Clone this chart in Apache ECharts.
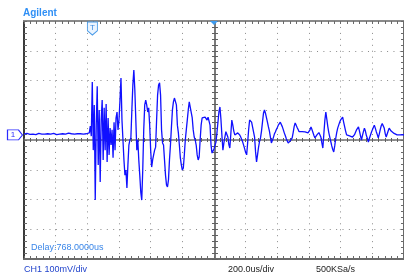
<!DOCTYPE html>
<html>
<head>
<meta charset="utf-8">
<script src="https://cdn.jsdelivr.net/npm/echarts@6/dist/echarts.min.js"></script>
<style>
html,body{margin:0;padding:0;background:#fff;}
#scope{width:404px;height:273px;}
</style>
</head>
<body>
<div id="scope"></div>
<script>
// CH1 record, mV, one sample per display column
const sampleUs = 6.25;
const screenStartUs = -1200;
const triggerUs = -768;
const ch1OffsetMv = 17;

const preTriggerMv = [
  20,21,20,22,21,20,19,21,22,20,
  21,20,18,20,21,22,21,20,20,19,
  21,20,22,23,21,20,19,20,21,20,
  22,21,20,18,17,19,20,21,22,21,
  20,21,20,19,21,23,22,20,21,20,
  19,20,21,22,21,20,20,21,22,21,
  20,19,20,21,22,24
];

const burstMv = [
  24,47,13,195,-34,118,-202,50,181,-84,
  101,-141,67,134,-67,108,-34,121,-74,74,
  -50,40,-17,34,-60,60,-34,74,94,34,
  67,134,208,67,0,-67,-118,-101,-161,-84,
  -17,0,7,101,185,235,168,67,-34,0,
  -67,-118,-175,-202,-101,34,118,134,118,94,
  108,50,-34,-91,-67,-50,-34,-24,67,151,
  185,192,151,34,-10,-17,-67,-118,-151,-158,
  -134,-67,-17,44,101,128,141,145,118,50,
  24,-17,-60,-84,-101,-94,-50,0,34,67,
  101,128,134,124,74,34,10,0,-17,-50,
  -67,-57,0,50,74,77,77,77,74,67,
  77,74,50,-17,-44,-40
];

const ringMv = [
  -30,-18,-7,25,60,95,111,70,15,-34,
  -10,10,28,34,10,-15,-27,20,67,50,
  30,17,20,22,24,20,17,10,2,-7,
  -18,-30,-42,-50,-10,35,67,65,60,58,
  57,10,-40,-74,-50,-25,-5,7,30,60,
  90,101,90,75,60,44,30,10,-10,-5,
  8,20,27,35,42,50,56,60,55,45,
  35,24,15,5,-3,-10,-8,-3,2,7,
  25,45,57,50,42,35,28,24,26,28,
  30,28,27,26,25,24,24,34,44,35,
  25,15,7,12,17,22,25,27,10,-10,
  -27,20,65,94,70,45,25,10,-5,-20,
  -32,-40,-20,5,25,40,50,60,68,74,
  77,60,45,30,17,15,13,14,12,10,
  10,10,18,26,34,40,44,30,15,0,
  15,28,40,30,15,5,-7,5,15,25,
  34,42,50,40,28,18,7,20,35,48,
  55,60,40,22,10,20,30,40,35,30,
  27,24,22,20,17,17,18,17,17,18,
  20,18,17
];

const brandText = 'Agilent';
const delayText = 'Delay:768.0000us';
const readoutTexts = ['CH1 100mV/div', '200.0us/div', '500KSa/s'];

const ch1Mv = preTriggerMv.concat(burstMv, ringMv);
const trace = ch1Mv.map((v, i) => [screenStartUs + i * sampleUs, v]);

const font = 'Liberation Sans, Arial, sans-serif';

// frame / centre axes only carry lines and ticks
function frameAxis(range, extra) {
  return Object.assign({
    type: 'value',
    min: range[0],
    max: range[1],
    interval: range[2],
    axisLabel: {show: false},
    splitLine: {show: false},
    axisLine: {show: true, onZero: false, lineStyle: {color: '#6a6a6a', width: 2}},
    axisTick: {show: true, inside: true, length: 3, lineStyle: {color: '#6a6a6a', width: 1}},
    minorTick: {show: true, splitNumber: 5, length: 3, lineStyle: {color: '#6a6a6a', width: 1}}
  }, extra);
}

const xRange = [-1200, 1200, 200];
const yRange = [-400, 400, 100];
const noLine = {show: false, onZero: false};

const chart = echarts.init(document.getElementById('scope'));
chart.setOption({
  animation: false,
  backgroundColor: '#fff',
  grid: {left: 24, top: 21, width: 382, height: 238, containLabel: false},
  xAxis: [
    frameAxis(xRange, {position: 'bottom',
      splitLine: {show: true, lineStyle: {color: '#8a8a8a', width: 1, type: [1, 4.95]}}}),
    frameAxis(xRange, {position: 'top', axisLine: {show: true, onZero: false, lineStyle: {color: '#8a8a8a', width: 2}}}),
    frameAxis(xRange, {position: 'bottom', offset: -119,
      axisLine: {show: true, onZero: false, lineStyle: {color: '#707070', width: 1.5}},
      axisTick: {show: true, inside: true, length: 2, lineStyle: {color: '#606060'}},
      minorTick: {show: true, splitNumber: 5, length: 2, lineStyle: {color: '#606060'}}}),
    frameAxis(xRange, {position: 'bottom', offset: -119, axisLine: noLine,
      axisTick: {show: true, inside: false, length: 2, lineStyle: {color: '#606060'}},
      minorTick: {show: true, splitNumber: 5, length: 2, lineStyle: {color: '#606060'}}})
  ],
  yAxis: [
    frameAxis(yRange, {position: 'left',
      axisLine: {show: true, onZero: false, lineStyle: {color: '#3a3a3a', width: 2}},
      splitLine: {show: true, lineStyle: {color: '#8a8a8a', width: 1, type: [1, 5.37]}}}),
    frameAxis(yRange, {position: 'right'}),
    frameAxis(yRange, {position: 'left', offset: -191,
      axisLine: {show: true, onZero: false, lineStyle: {color: '#7a7a7a', width: 2}},
      axisTick: {show: true, inside: true, length: 3, lineStyle: {color: '#606060'}},
      minorTick: {show: true, splitNumber: 5, length: 3, lineStyle: {color: '#606060'}}}),
    frameAxis(yRange, {position: 'left', offset: -191, axisLine: noLine,
      axisTick: {show: true, inside: false, length: 3, lineStyle: {color: '#606060'}},
      minorTick: {show: true, splitNumber: 5, length: 3, lineStyle: {color: '#606060'}}})
  ],
  series: [{
    type: 'line',
    xAxisIndex: 0,
    yAxisIndex: 0,
    data: trace,
    showSymbol: false,
    sampling: null,
    clip: false,
    lineStyle: {color: '#1010ff', width: 1.3},
    z: 5,
    markPoint: {
      silent: true,
      data: [
        { // channel 1 ground marker
          coord: [screenStartUs, ch1OffsetMv],
          symbol: 'path://M0,0H11L15,5L11,10H0Z',
          symbolSize: [15, 10],
          symbolOffset: [-9, 0],
          itemStyle: {color: '#fff', borderColor: '#2a2aff', borderWidth: 1},
          label: {show: true, formatter: '1', color: '#2a2aff', fontSize: 8, fontFamily: font, offset: [-2, 0]}
        },
        { // trigger position
          coord: [triggerUs, yRange[1]],
          symbol: 'path://M0,0H10V8L5,12L0,8Z',
          symbolSize: [10, 13],
          symbolOffset: [0, 7.5],
          itemStyle: {color: '#eaf4ff', borderColor: '#4a9be8', borderWidth: 1},
          label: {show: true, formatter: 'T', color: '#3a8ae0', fontSize: 8, fontFamily: font, offset: [0, -1]}
        },
        { // delay reference
          coord: [0, yRange[1]],
          symbol: 'triangle',
          symbolRotate: 180,
          symbolSize: [8, 4],
          symbolOffset: [0, 2],
          itemStyle: {color: '#3d9bf0'},
          label: {show: false}
        }
      ]
    }
  }],
  graphic: [
    {type: 'text', left: 23, top: 8, style: {text: brandText, font: 'bold 10px ' + font, fill: '#2f8ff5'}},
    {type: 'text', left: 31, top: 243, style: {text: delayText, font: '9px ' + font, fill: '#3a86e8'}},
    {type: 'text', left: 24, top: 265, style: {text: readoutTexts[0], font: '9px ' + font, fill: '#2244cc'}},
    {type: 'text', left: 228, top: 265, style: {text: readoutTexts[1], font: '9px ' + font, fill: '#222'}},
    {type: 'text', left: 316, top: 265, style: {text: readoutTexts[2], font: '9px ' + font, fill: '#222'}}
  ]
});
</script>
</body>
</html>
